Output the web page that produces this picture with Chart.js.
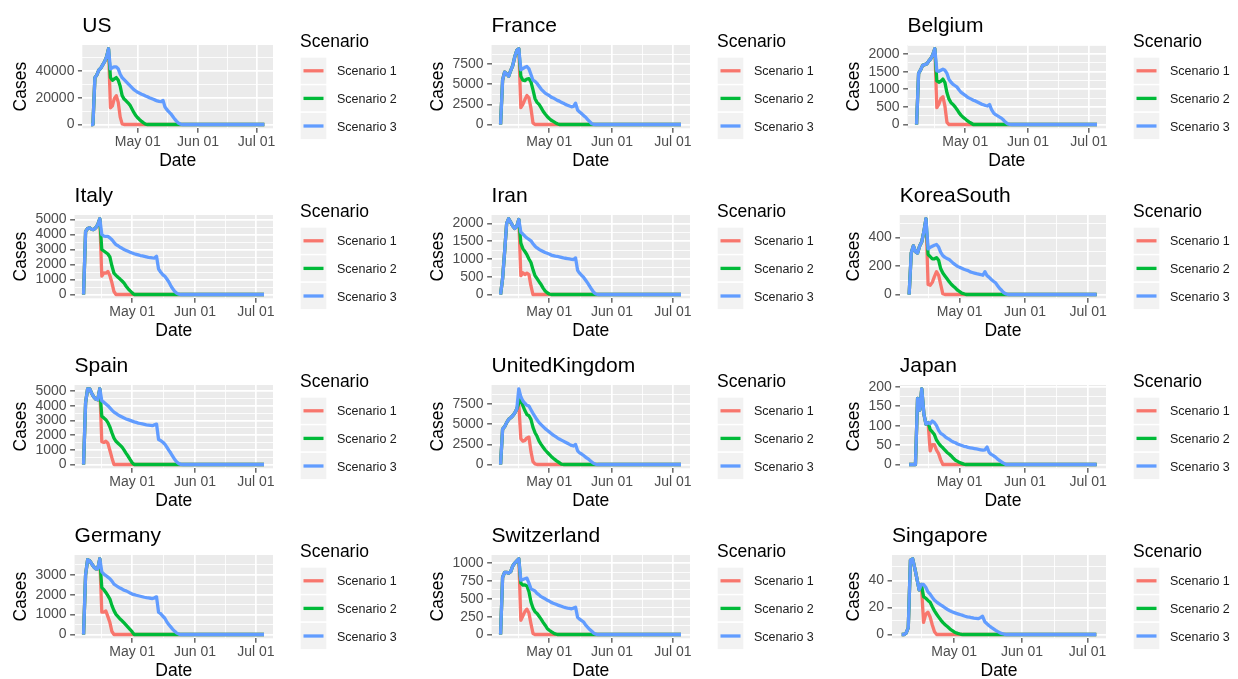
<!DOCTYPE html>
<html>
<head>
<meta charset="utf-8">
<title>Scenario forecasts</title>
<script src="https://cdn.jsdelivr.net/npm/chart.js@4.4.1/dist/chart.umd.min.js"></script>
<style>
  html, body { margin: 0; padding: 0; background: #ffffff; }
  body { width: 1238px; height: 679px; overflow: hidden; position: relative; }
  .cell { position: absolute; width: 414px; height: 170px; }
</style>
</head>
<body>
<script>
// day 0 = Apr 07, one value per day
const lastDay = 89;
const dateTicks = [24, 55, 85];
const dateTickLabels = ["May 01", "Jun 01", "Jul 01"];
const dateMinorTicks = [9, 39.5, 70];

const scenarioNames = ["Scenario 1", "Scenario 2", "Scenario 3"];
const scenarioColors = ["#F8766D", "#00BA38", "#619CFF"];

const usHistory = [0, 0, 35000, 37000, 40500, 42000, 44500, 47000, 50500, 56500];
const usScenario1 = [12500, 14000, 19500, 21500, 16500, 5500, 500, 0];
const usScenario2 = [35000, 33000, 34000, 35000, 33000, 28500, 21500, 19000, 17700, 16200, 14500, 11800, 9000, 6700, 5000, 3600, 2300, 1200, 300, 0];
const usScenario3 = [41500, 42500, 43000, 43000, 41500, 37500, 35000, 33500, 32000, 30500, 29000, 27500, 26000, 25000, 24000, 23300, 22600, 22000, 21300, 20700, 20000, 19400, 18800, 18200, 17600, 17200, 17000, 18000, 13000, 11000, 9500, 8000, 6000, 4000, 2300, 900, 300, 0];
const usTicks = [0, 20000, 40000];

const franceHistory = [0, 5500, 6500, 6300, 6000, 6700, 7300, 8400, 9200, 9400];
const franceScenario1 = [2100, 2500, 3100, 3600, 3300, 2000, 200, 0];
const franceScenario2 = [6000, 5500, 5450, 5650, 5700, 5300, 4300, 3200, 2750, 2500, 2100, 1650, 1300, 1000, 750, 530, 380, 230, 100, 0];
const franceScenario3 = [6800, 6950, 7100, 7200, 6900, 6200, 5500, 5350, 5100, 4750, 4400, 4150, 3900, 3750, 3600, 3400, 3300, 3150, 3000, 2900, 2750, 2650, 2500, 2400, 2300, 2200, 2250, 2650, 1800, 1550, 1350, 1100, 900, 600, 350, 100, 20, 0];
const franceTicks = [0, 2500, 5000, 7500];

const belgiumHistory = [0, 1450, 1550, 1680, 1700, 1720, 1800, 1870, 1980, 2150];
const belgiumScenario1 = [480, 580, 740, 790, 520, 60, 0];
const belgiumScenario2 = [1240, 1200, 1230, 1290, 1190, 900, 720, 620, 570, 500, 420, 330, 260, 200, 160, 110, 70, 35, 0];
const belgiumScenario3 = [1520, 1510, 1540, 1570, 1540, 1450, 1280, 1200, 1140, 1100, 1060, 980, 910, 870, 830, 780, 750, 720, 690, 670, 640, 610, 580, 560, 540, 525, 570, 420, 330, 280, 245, 210, 175, 120, 60, 20, 5, 0];
const belgiumTicks = [0, 500, 1000, 1500, 2000];

const italyHistory = [0, 4200, 4400, 4450, 4350, 4330, 4450, 4650, 5050];
const italyScenario1 = [1220, 1440, 1420, 1540, 1250, 780, 200, 0];
const italyScenario2 = [3000, 2900, 2800, 2700, 2500, 1900, 1420, 1280, 1150, 1030, 900, 760, 550, 380, 240, 110, 0];
const italyScenario3 = [4000, 3900, 3880, 3880, 3780, 3650, 3480, 3330, 3250, 3150, 3080, 3000, 2940, 2880, 2820, 2770, 2720, 2680, 2640, 2600, 2570, 2540, 2510, 2480, 2460, 2440, 2430, 2550, 1700, 1500, 1330, 1230, 1050, 850, 600, 380, 200, 80, 20, 0];
const italyTicks = [0, 1000, 2000, 3000, 4000, 5000];

const iranHistory = [0, 450, 1200, 2000, 2130, 2030, 1930, 1860, 1920, 2110];
const iranScenario1 = [530, 610, 560, 600, 560, 240, 0];
const iranScenario2 = [1450, 1290, 1210, 1120, 1000, 900, 700, 530, 450, 360, 280, 180, 100, 50, 15, 0];
const iranScenario3 = [1750, 1700, 1640, 1590, 1550, 1510, 1430, 1360, 1310, 1270, 1240, 1210, 1180, 1160, 1140, 1110, 1095, 1080, 1070, 1060, 1045, 1030, 1020, 1010, 1000, 990, 985, 1030, 680, 600, 540, 480, 400, 320, 230, 140, 60, 15, 0];
const iranTicks = [0, 500, 1000, 1500, 2000];

const koreaHistory = [0, 290, 340, 300, 290, 340, 370, 440, 530];
const koreaScenario1 = [70, 65, 85, 125, 160, 135, 70, 5, 0];
const koreaScenario2 = [280, 265, 250, 250, 258, 240, 180, 150, 130, 110, 90, 72, 58, 45, 30, 20, 10, 5, 0];
const koreaScenario3 = [320, 330, 338, 345, 350, 332, 295, 272, 260, 252, 245, 232, 218, 207, 197, 190, 184, 177, 172, 167, 158, 154, 150, 146, 143, 140, 135, 160, 132, 120, 105, 93, 82, 62, 42, 28, 12, 4, 0];
const koreaTicks = [0, 200, 400];

const spainHistory = [0, 4200, 5150, 5150, 4850, 4600, 4450, 4400, 5150];
const spainScenario1 = [1550, 1500, 1580, 1450, 950, 450, 0];
const spainScenario2 = [3280, 3170, 3050, 2850, 2550, 2150, 1800, 1580, 1450, 1320, 1180, 980, 760, 560, 330, 120, 0];
const spainScenario3 = [4330, 4240, 4120, 4000, 3850, 3700, 3560, 3470, 3380, 3300, 3230, 3160, 3100, 3050, 3000, 2950, 2900, 2860, 2820, 2790, 2760, 2730, 2700, 2680, 2660, 2640, 2700, 2750, 1700, 1630, 1530, 1400, 1200, 980, 780, 560, 340, 170, 60, 10, 0];
const spainTicks = [0, 1000, 2000, 3000, 4000, 5000];

const ukHistory = [0, 4400, 4700, 5200, 5600, 5800, 6050, 6400, 6900];
const ukScenario1 = [7500, 3200, 2900, 3000, 3300, 3400, 1600, 350, 80, 0];
const ukScenario2 = [7600, 8150, 7300, 6700, 6200, 6050, 5600, 4600, 3950, 3500, 2900, 2500, 2150, 1800, 1520, 1270, 1000, 780, 580, 380, 220, 60, 0];
const ukScenario3 = [9400, 8400, 7900, 7600, 7350, 7250, 6800, 6350, 5950, 5550, 5200, 4950, 4700, 4450, 4250, 4050, 3850, 3650, 3500, 3320, 3160, 3030, 2900, 2770, 2640, 2500, 2370, 2300, 2500, 1700, 1450, 1300, 1120, 900, 740, 520, 320, 120, 30, 0];
const ukTicks = [0, 2500, 5000, 7500];

const japanHistory = [0, 0, 0, 0, 170, 140, 195, 130, 104, 108];
const japanScenario1 = [35, 51, 51, 37, 28, 12, 0];
const japanScenario2 = [90, 84, 77, 63, 55, 48, 43, 37, 31, 27, 22, 16, 11, 8, 5, 3, 1, 0];
const japanScenario3 = [105, 112, 108, 100, 88, 80, 77, 72, 68, 65, 61, 58, 56, 53, 51, 49, 47, 46, 44, 43, 42, 41, 40, 39, 38, 37, 38, 45, 31, 26, 23, 19, 14, 10, 6, 3, 0];
const japanTicks = [0, 50, 100, 150, 200];

const germanyHistory = [0, 3000, 3750, 3700, 3550, 3400, 3300, 3300, 3800];
const germanyScenario1 = [1120, 1120, 1180, 900, 600, 150, 0];
const germanyScenario2 = [2350, 2250, 2110, 1950, 1780, 1450, 1200, 1010, 900, 780, 690, 580, 470, 360, 250, 130, 0];
const germanyScenario3 = [3150, 3030, 2960, 2880, 2800, 2680, 2530, 2460, 2390, 2330, 2280, 2220, 2190, 2140, 2080, 2030, 2000, 1970, 1945, 1920, 1895, 1870, 1850, 1835, 1820, 1805, 1840, 1890, 1120, 1050, 930, 830, 650, 500, 380, 260, 160, 70, 20, 0];
const germanyTicks = [0, 1000, 2000, 3000];

const switzerlandHistory = [0, 800, 870, 870, 860, 880, 960, 1000, 1030, 1060];
const switzerlandScenario1 = [200, 260, 320, 355, 300, 150, 15, 0];
const switzerlandScenario2 = [720, 690, 695, 680, 600, 455, 370, 320, 295, 255, 215, 170, 130, 85, 60, 40, 22, 8, 0];
const switzerlandScenario3 = [760, 770, 780, 790, 720, 640, 625, 610, 575, 555, 530, 515, 500, 480, 468, 450, 438, 428, 415, 405, 395, 385, 376, 370, 365, 360, 370, 383, 240, 215, 195, 175, 130, 100, 70, 45, 18, 5, 0];
const switzerlandTicks = [0, 250, 500, 750, 1000];

const singaporeHistory = [0, 0, 1, 5, 55, 56, 49, 41, 33, 37];
const singaporeScenario1 = [9, 15, 16.5, 13, 7, 2, 0];
const singaporeScenario2 = [28, 26.8, 25.2, 23.8, 20.5, 17.5, 15, 12.7, 10.5, 8.6, 7, 5.7, 4.2, 3, 1.9, 1.2, 0.6, 0.2, 0];
const singaporeScenario3 = [37, 35, 31.5, 29.8, 27.5, 25.3, 24, 22.8, 21.7, 20.7, 19.5, 18.5, 17.6, 16.8, 16.2, 15.6, 15.1, 14.6, 14.1, 13.5, 13.1, 12.8, 12.4, 12.1, 11.9, 11.7, 12.5, 13.5, 9.5, 8, 6.5, 5.3, 4.2, 3.1, 2.1, 1.2, 0.6, 0.2, 0];
const singaporeTicks = [0, 20, 40];

const panels = [
  { name: "US", history: usHistory, scen: [usScenario1, usScenario2, usScenario3], ticks: usTicks },
  { name: "France", history: franceHistory, scen: [franceScenario1, franceScenario2, franceScenario3], ticks: franceTicks },
  { name: "Belgium", history: belgiumHistory, scen: [belgiumScenario1, belgiumScenario2, belgiumScenario3], ticks: belgiumTicks },
  { name: "Italy", history: italyHistory, scen: [italyScenario1, italyScenario2, italyScenario3], ticks: italyTicks },
  { name: "Iran", history: iranHistory, scen: [iranScenario1, iranScenario2, iranScenario3], ticks: iranTicks },
  { name: "KoreaSouth", history: koreaHistory, scen: [koreaScenario1, koreaScenario2, koreaScenario3], ticks: koreaTicks },
  { name: "Spain", history: spainHistory, scen: [spainScenario1, spainScenario2, spainScenario3], ticks: spainTicks },
  { name: "UnitedKingdom", history: ukHistory, scen: [ukScenario1, ukScenario2, ukScenario3], ticks: ukTicks },
  { name: "Japan", history: japanHistory, scen: [japanScenario1, japanScenario2, japanScenario3], ticks: japanTicks },
  { name: "Germany", history: germanyHistory, scen: [germanyScenario1, germanyScenario2, germanyScenario3], ticks: germanyTicks },
  { name: "Switzerland", history: switzerlandHistory, scen: [switzerlandScenario1, switzerlandScenario2, switzerlandScenario3], ticks: switzerlandTicks },
  { name: "Singapore", history: singaporeHistory, scen: [singaporeScenario1, singaporeScenario2, singaporeScenario3], ticks: singaporeTicks },
];

const colLeft = [0, 417, 833];
const rowTop = [0, 170, 340, 510];
const fontFamily = '"Liberation Sans", Arial, Helvetica, sans-serif';

Chart.defaults.font.family = fontFamily;
Chart.defaults.color = "#4D4D4D";

// grey panel, title over the panel, legend on the right (ggplot look)
const ggPanel = {
  id: "ggPanel",
  beforeDraw(chart) {
    const { ctx, chartArea: a } = chart;
    ctx.save();
    ctx.fillStyle = "#EBEBEB";
    ctx.fillRect(a.left, a.top, a.right - a.left, a.bottom - a.top);
    ctx.restore();
  },
  afterDraw(chart, args, opts) {
    const { ctx, chartArea: a } = chart;
    ctx.save();
    ctx.fillStyle = "#000000";
    ctx.textBaseline = "alphabetic";
    ctx.font = "21px " + fontFamily;
    ctx.fillText(opts.title, a.left, 32);

    const lx = a.right + 27;
    ctx.font = "17.5px " + fontFamily;
    ctx.fillText("Scenario", lx, 47);
    for (let i = 0; i < scenarioNames.length; i++) {
      const top = 57 + i * 27.6;
      const mid = top + 13.8;
      ctx.fillStyle = "#F2F2F2";
      ctx.fillRect(lx, top, 27, 27.6);
      ctx.strokeStyle = "#FFFFFF";
      ctx.lineWidth = 1.4;
      ctx.strokeRect(lx, top, 27, 27.6);
      ctx.strokeStyle = scenarioColors[i];
      ctx.lineWidth = 3.3;
      ctx.beginPath();
      ctx.moveTo(lx + 3.5, mid);
      ctx.lineTo(lx + 23.5, mid);
      ctx.stroke();
      ctx.fillStyle = "#1A1A1A";
      ctx.font = "12.5px " + fontFamily;
      ctx.fillText(scenarioNames[i], lx + 37, mid + 4.5);
    }
    ctx.restore();
  },
};

function seriesPoints(history, scenario) {
  const pts = history.map((v, i) => ({ x: i, y: v }));
  scenario.forEach((v, j) => pts.push({ x: history.length + j, y: v }));
  pts.push({ x: lastDay, y: 0 });
  return pts;
}

function makeChart(canvas, panel) {
  const all = panel.history.concat(panel.scen[0], panel.scen[1], panel.scen[2]);
  const top = Math.max(...all);
  const yMax = top * 1.05;
  const step = panel.ticks[1] - panel.ticks[0];
  const yMinor = panel.ticks.map(v => v + step / 2).filter(v => v <= yMax);
  const yAll = panel.ticks.concat(yMinor).sort((a, b) => a - b);
  const xAll = dateTicks.concat(dateMinorTicks).sort((a, b) => a - b);

  const datasets = panel.scen.map((s, i) => ({
    label: scenarioNames[i],
    data: seriesPoints(panel.history, s),
    borderColor: scenarioColors[i],
    borderWidth: 3.3,
    borderJoinStyle: "round",
    pointRadius: 0,
    tension: 0,
    fill: false,
    order: 2 - i,
  }));

  new Chart(canvas, {
    type: "line",
    data: { datasets: datasets },
    options: {
      responsive: false,
      animation: false,
      events: [],
      layout: { padding: { top: 45, right: 141, bottom: 0, left: 11 } },
      plugins: {
        legend: { display: false },
        tooltip: { enabled: false },
        title: { display: false },
        ggPanel: { title: panel.name },
      },
      scales: {
        x: {
          type: "linear",
          min: -0.05 * lastDay,
          max: 1.05 * lastDay,
          afterBuildTicks: (scale) => { scale.ticks = xAll.map(v => ({ value: v })); },
          ticks: {
            autoSkip: false,
            maxRotation: 0,
            padding: 1,
            color: "#4D4D4D",
            font: { size: 14 },
            callback: (v) => {
              const k = dateTicks.indexOf(v);
              return k >= 0 ? dateTickLabels[k] : "";
            },
          },
          grid: {
            color: "#FFFFFF",
            lineWidth: (c) => (c.tick && dateTicks.includes(c.tick.value) ? 1.7 : 0.85),
            tickLength: 4.4,
            tickWidth: 1.1,
            tickColor: (c) => (c.tick && dateTicks.includes(c.tick.value) ? "#333333" : "rgba(0,0,0,0)"),
          },
          border: { display: false },
          title: { display: true, text: "Date", color: "#000000", font: { size: 17.5, lineHeight: 1 }, padding: { top: 1, bottom: 0 } },
        },
        y: {
          type: "linear",
          min: -0.05 * top,
          max: yMax,
          afterBuildTicks: (scale) => { scale.ticks = yAll.map(v => ({ value: v })); },
          ticks: {
            autoSkip: false,
            padding: 3.5,
            color: "#4D4D4D",
            font: { size: 14 },
            callback: (v) => (panel.ticks.includes(v) ? String(v) : ""),
          },
          grid: {
            color: "#FFFFFF",
            lineWidth: (c) => (c.tick && panel.ticks.includes(c.tick.value) ? 1.7 : 0.85),
            tickLength: 4.4,
            tickWidth: 1.1,
            tickColor: (c) => (c.tick && panel.ticks.includes(c.tick.value) ? "#333333" : "rgba(0,0,0,0)"),
          },
          border: { display: false },
          title: { display: true, text: "Cases", color: "#000000", font: { size: 17.5, lineHeight: 1 }, padding: { top: 1.5, bottom: 2 } },
        },
      },
    },
    plugins: [ggPanel],
  });
}

panels.forEach((panel, k) => {
  const cell = document.createElement("div");
  cell.className = "cell";
  cell.style.left = colLeft[k % 3] + "px";
  cell.style.top = rowTop[Math.floor(k / 3)] + "px";
  const canvas = document.createElement("canvas");
  canvas.width = 414;
  canvas.height = 170;
  cell.appendChild(canvas);
  document.body.appendChild(cell);
  makeChart(canvas, panel);
});
</script>
</body>
</html>
